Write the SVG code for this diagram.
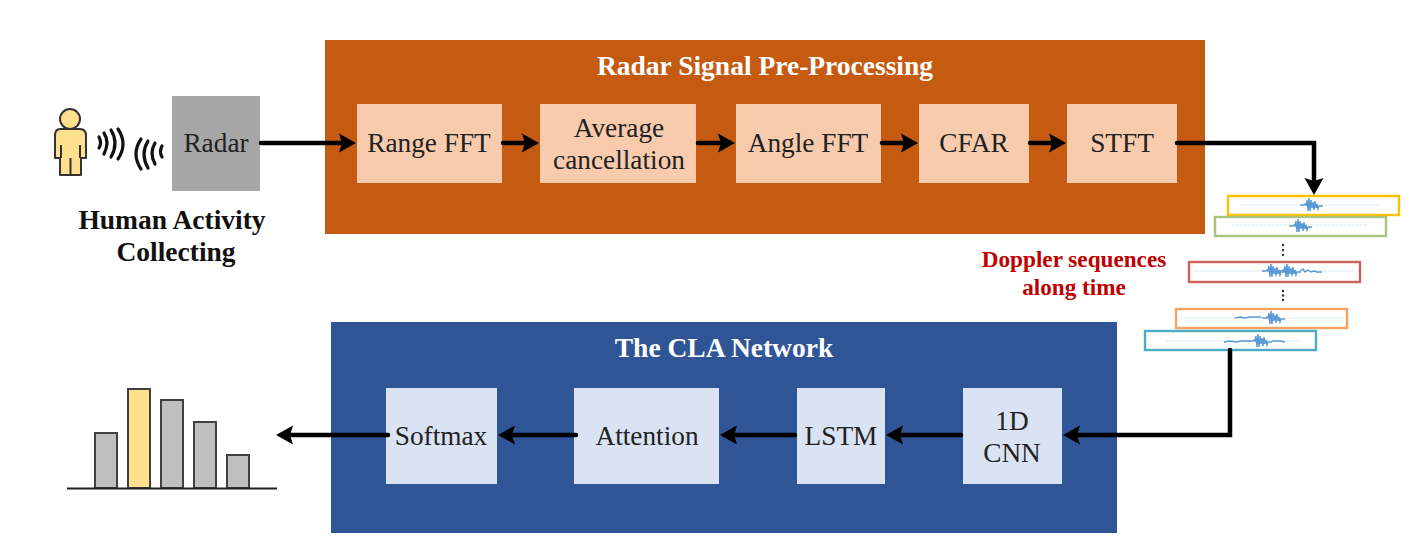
<svg xmlns="http://www.w3.org/2000/svg" width="1415" height="558" viewBox="0 0 1415 558">
<style>
text{font-family:"Liberation Serif","Times New Roman",serif;text-anchor:middle}
.t{font-size:27.3px;fill:#222}
.h{font-size:27.500px;font-weight:bold;fill:#fff}
.b{font-size:27.500px;font-weight:bold;fill:#111}
.r{font-size:23.200px;font-weight:bold;fill:#c00000}
.o{fill:#f8cbad}
.u{fill:#dae3f3}
.c{fill:none;stroke:#000;stroke-width:4.500;stroke-linecap:round;stroke-linejoin:miter}
.w{fill:none;stroke:#111;stroke-width:3.200;stroke-linecap:round}
.bar{fill:#bfbfbf;stroke:#404040;stroke-width:2}
.seq{fill:#fff;stroke-width:2.400}
.sig{fill:none;stroke:#5b9bd5;stroke-width:1.400}
.base{stroke:#d5e5f5;stroke-width:1;stroke-dasharray:3 1}
</style>
<defs>
<marker id="a" markerUnits="userSpaceOnUse" markerWidth="18" markerHeight="20" refX="9" refY="10" orient="auto"><path d="M0,0.500 L17,10 L0,19.500 L3,10 Z" fill="#000"/></marker>
<path id="wave" class="sig" d="M-12,0h4l1,-1l1,1l1,-5l1,11l1,-13l1,13l1,-11l1,8l1,-6l1,8l1,-9l1,7l1,-4l1,5l1,-3h4"/>
</defs>
<g id="preprocessing">
<rect x="325" y="40" width="880" height="194" fill="#c55a11"/>
<text class="h" x="765" y="75">Radar Signal Pre-Processing</text>
</g>
<g id="cla-network">
<rect x="331" y="322" width="786" height="211" fill="#2f5597"/>
<text class="h" x="724" y="357">The CLA Network</text>
</g>
<g id="person">
<circle cx="70" cy="119" r="10" fill="#ffe08f" stroke="#333" stroke-width="2"/>
<path d="M60,129H80Q86,129 86,136V158H81V175H60V158H55V136Q55,129 60,129ZM61,145V158M80,145V158M70.500,158V175" fill="#ffe08f" stroke="#333" stroke-width="2" stroke-linejoin="round"/>
</g>
<g id="waves">
<path class="w" d="M99,137q3,6 0,11M104,133q6,9 0,21M111,130q8,13 0,27M118,129q10,15 0,30"/>
<path class="w" d="M162,146q-3,6 0,11M155,143q-6,10 0,21M148,141q-8,13 0,27M141,139q-10,15 0,30"/>
</g>
<g id="radar">
<rect x="172" y="96" width="88" height="95" fill="#a6a6a6"/>
<text class="t" x="216" y="152">Radar</text>
</g>
<g id="collecting-label">
<text class="b" x="172" y="229">Human Activity</text>
<text class="b" x="176" y="261">Collecting</text>
</g>
<g id="range-fft"><rect class="o" x="357" y="104" width="145" height="79"/><text class="t" x="429" y="152">Range FFT</text></g>
<g id="average-cancellation"><rect class="o" x="540" y="104" width="156" height="79"/><text class="t" x="619" y="137">Average</text><text class="t" x="619" y="169">cancellation</text></g>
<g id="angle-fft"><rect class="o" x="736" y="104" width="145" height="79"/><text class="t" x="808" y="152">Angle FFT</text></g>
<g id="cfar"><rect class="o" x="919" y="104" width="110" height="79"/><text class="t" x="974" y="152">CFAR</text></g>
<g id="stft"><rect class="o" x="1067" y="104" width="110" height="79"/><text class="t" x="1122" y="152">STFT</text></g>
<g id="doppler">
<text class="r" x="1074" y="267">Doppler sequences</text>
<text class="r" x="1074" y="295">along time</text>
<rect class="seq" x="1228" y="196" width="171" height="19" stroke="#ffc000"/>
<path class="base" d="M1240,205H1380"/><use href="#wave" x="1312" y="205"/>
<rect class="seq" x="1215" y="217" width="171" height="19" stroke="#a9c47f"/>
<path class="base" d="M1232,225H1368"/><use href="#wave" x="1301" y="226"/>
<rect class="seq" x="1189" y="262" width="171" height="20" stroke="#c9625a"/>
<path class="base" d="M1195,271H1355"/><use href="#wave" x="1274" y="271"/><use href="#wave" x="1290" y="271"/><path class="sig" d="M1300,271l3,-2l2,3l3,-2l3,2l3,-1l3,1l5,0"/>
<rect class="seq" x="1176" y="309" width="171" height="19" stroke="#f4a460"/>
<path class="base" d="M1180,318H1345"/><use href="#wave" x="1274" y="318"/><path class="sig" d="M1235,318l5,-1l5,1l5,-1l5,0l6,0"/>
<rect class="seq" x="1145" y="331" width="171" height="19" stroke="#4bacc6"/>
<path class="base" d="M1166,341H1300"/><use href="#wave" x="1261" y="341"/><path class="sig" d="M1224,342l6,-1l6,1l6,-1l8,0M1272,341l8,0l5,1"/>
<g fill="#333"><circle cx="1283" cy="245" r="1.200"/><circle cx="1283" cy="250" r="1.200"/><circle cx="1283" cy="255" r="1.200"/><circle cx="1283" cy="291" r="1.200"/><circle cx="1283" cy="295.500" r="1.200"/><circle cx="1283" cy="300" r="1.200"/></g>
</g>
<g id="cnn"><rect class="u" x="963" y="388" width="99" height="96"/><text class="t" x="1012" y="430">1D</text><text class="t" x="1012" y="462">CNN</text></g>
<g id="lstm"><rect class="u" x="797" y="388" width="88" height="96"/><text class="t" x="841" y="445">LSTM</text></g>
<g id="attention"><rect class="u" x="574" y="388" width="145" height="96"/><text class="t" x="647" y="445">Attention</text></g>
<g id="softmax"><rect class="u" x="386" y="388" width="111" height="96"/><text class="t" x="441" y="445">Softmax</text></g>
<g id="output-chart">
<rect class="bar" x="95" y="433" width="22" height="55"/>
<rect class="bar" x="128" y="389" width="22" height="99" style="fill:#ffe08f"/>
<rect class="bar" x="161" y="400" width="22" height="88"/>
<rect class="bar" x="194" y="422" width="22" height="66"/>
<rect class="bar" x="227" y="455" width="22" height="33"/>
<path d="M67,488.500H277" stroke="#222" stroke-width="2"/>
</g>
<g id="connectors">
<path class="c" d="M261,143H348" marker-end="url(#a)"/>
<path class="c" d="M503,143H531" marker-end="url(#a)"/>
<path class="c" d="M698,143H727" marker-end="url(#a)"/>
<path class="c" d="M882,143H910" marker-end="url(#a)"/>
<path class="c" d="M1030,143H1058" marker-end="url(#a)"/>
<path class="c" d="M1177,143H1314V187" marker-end="url(#a)"/>
<path class="c" d="M1230,350V435H1071" marker-end="url(#a)"/>
<path class="c" d="M961,435H894" marker-end="url(#a)"/>
<path class="c" d="M795,435H728" marker-end="url(#a)"/>
<path class="c" d="M576,435H506" marker-end="url(#a)"/>
<path class="c" d="M388,435H284" marker-end="url(#a)"/>
</g>
</svg>
